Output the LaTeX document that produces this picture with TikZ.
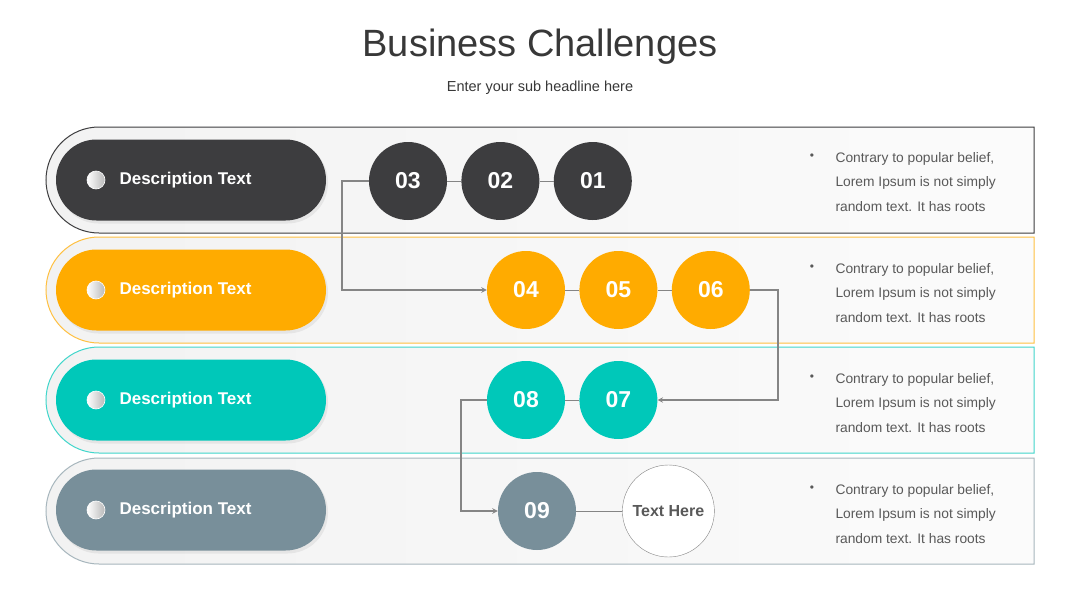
\documentclass[tikz,border=0pt]{standalone}
\usepackage{fontspec}
\setmainfont{Liberation Sans}
\usetikzlibrary{positioning, calc}

\definecolor{darkC}{HTML}{3D3D3F}
\definecolor{orangeC}{HTML}{FFAB00}
\definecolor{tealC}{HTML}{00C8B9}
\definecolor{slateC}{HTML}{788F9A}
\definecolor{titleC}{HTML}{383838}
\definecolor{noteC}{HTML}{595959}
\definecolor{lineC}{HTML}{858585}

\begin{document}
\begin{tikzpicture}[
  x=1pt, y=-1pt,
  node distance = 14pt,
  >=stealth,
  pillNode/.style   ={rectangle, rounded corners=40.5pt, minimum width=270pt, minimum height=81pt, inner sep=0pt},
  dotNode/.style    ={circle, minimum size=18pt, inner sep=0pt, left color=white, right color=gray!55, draw=white, line width=0.6pt},
  descText/.style   ={anchor=west, text=white, font=\fontsize{17}{20}\selectfont\bfseries},
  stepCircle/.style ={circle, minimum size=78pt, inner sep=0pt, text=white, font=\fontsize{23}{26}\selectfont\bfseries},
  endCircle/.style  ={circle, minimum size=92pt, inner sep=0pt, draw=lineC, fill=white, text=noteC, font=\fontsize{16}{19}\selectfont\bfseries},
  noteText/.style   ={anchor=west, align=left, text=noteC, font=\fontsize{13.8}{24.5}\selectfont},
  bulletNode/.style ={text=noteC, font=\fontsize{12}{14}\selectfont},
  linkLine/.style   ={draw=lineC, line width=1pt},
  arrow/.style      ={->, draw=lineC, line width=1.4pt},
  rowBand/.style    ={line width=1pt, left color=gray!10, right color=gray!3}
]
\useasboundingbox[fill=white] (0,0) rectangle (1080,608);

% ================== TITLE ==================
\node[text=titleC, font=\fontsize{38}{44}\selectfont] (TITLE) at (540,47) {Business Challenges};
\node[text=titleC, font=\fontsize{14.5}{17}\selectfont] (SUB) at (540,88) {Enter your sub headline here};

% ================== ROW BANDS ==================
\foreach \yt/\col in {127/darkC, 237/orangeC!75, 347/tealC!75, 458/slateC!65}{
  \draw[rowBand, draw=\col] (1034,\yt) -- (99,\yt) arc[start angle=270, end angle=90, radius=53] -- (1034,{\yt+106}) -- cycle;
}

% ================== PILLS ==================
\foreach \i/\yc/\col in {1/180/darkC, 2/290/orangeC, 3/400/tealC, 4/510/slateC}{
  \fill[black, opacity=0.06, rounded corners=40.5pt] (58,{\yc-38.5}) rectangle (328,{\yc+43.5});
  \node[pillNode, fill=\col] (P\i) at (191,\yc) {};
  \node[dotNode] (D\i) at (96,\yc) {};
  \node[descText] (L\i) at (116,\yc) {Description Text};
}

% ================== ROW 1 ==================
\node[stepCircle, fill=darkC] (C03) at (408,181) {03};
\node[stepCircle, fill=darkC, right=of C03] (C02) {02};
\node[stepCircle, fill=darkC, right=of C02] (C01) {01};
\draw[linkLine] (C03) -- (C02);
\draw[linkLine] (C02) -- (C01);

% ================== ROW 2 ==================
\node[stepCircle, fill=orangeC] (C04) at (526,290) {04};
\node[stepCircle, fill=orangeC, right=of C04] (C05) {05};
\node[stepCircle, fill=orangeC, right=of C05] (C06) {06};
\draw[linkLine] (C04) -- (C05);
\draw[linkLine] (C05) -- (C06);

% ================== ROW 3 ==================
\node[stepCircle, fill=tealC] (C08) at (526,400) {08};
\node[stepCircle, fill=tealC, right=of C08] (C07) {07};
\draw[linkLine] (C08) -- (C07);

% ================== ROW 4 ==================
\node[stepCircle, fill=slateC] (C09) at (537,511) {09};
\node[endCircle, right=46pt of C09] (END) {Text Here};
\draw[linkLine] (C09) -- (END);

% flow between rows
\draw[arrow] (C03.west) -- ++(-27,0) |- (C04.west);
\draw[arrow] (C06.east) -- ++(28,0) |- (C07.east);
\draw[arrow] (C08.west) -- ++(-26,0) |- (C09.west);

% ================== NOTES ==================
\foreach \i/\yc in {1/182, 2/293, 3/403, 4/514}{
  \node[bulletNode] (B\i) at (812,{\yc-25}) {•};
  \node[noteText] (N\i) at (832,\yc) {Contrary to popular belief,\\Lorem Ipsum is not simply\\random text. It has roots};
}

\end{tikzpicture}
\end{document}
